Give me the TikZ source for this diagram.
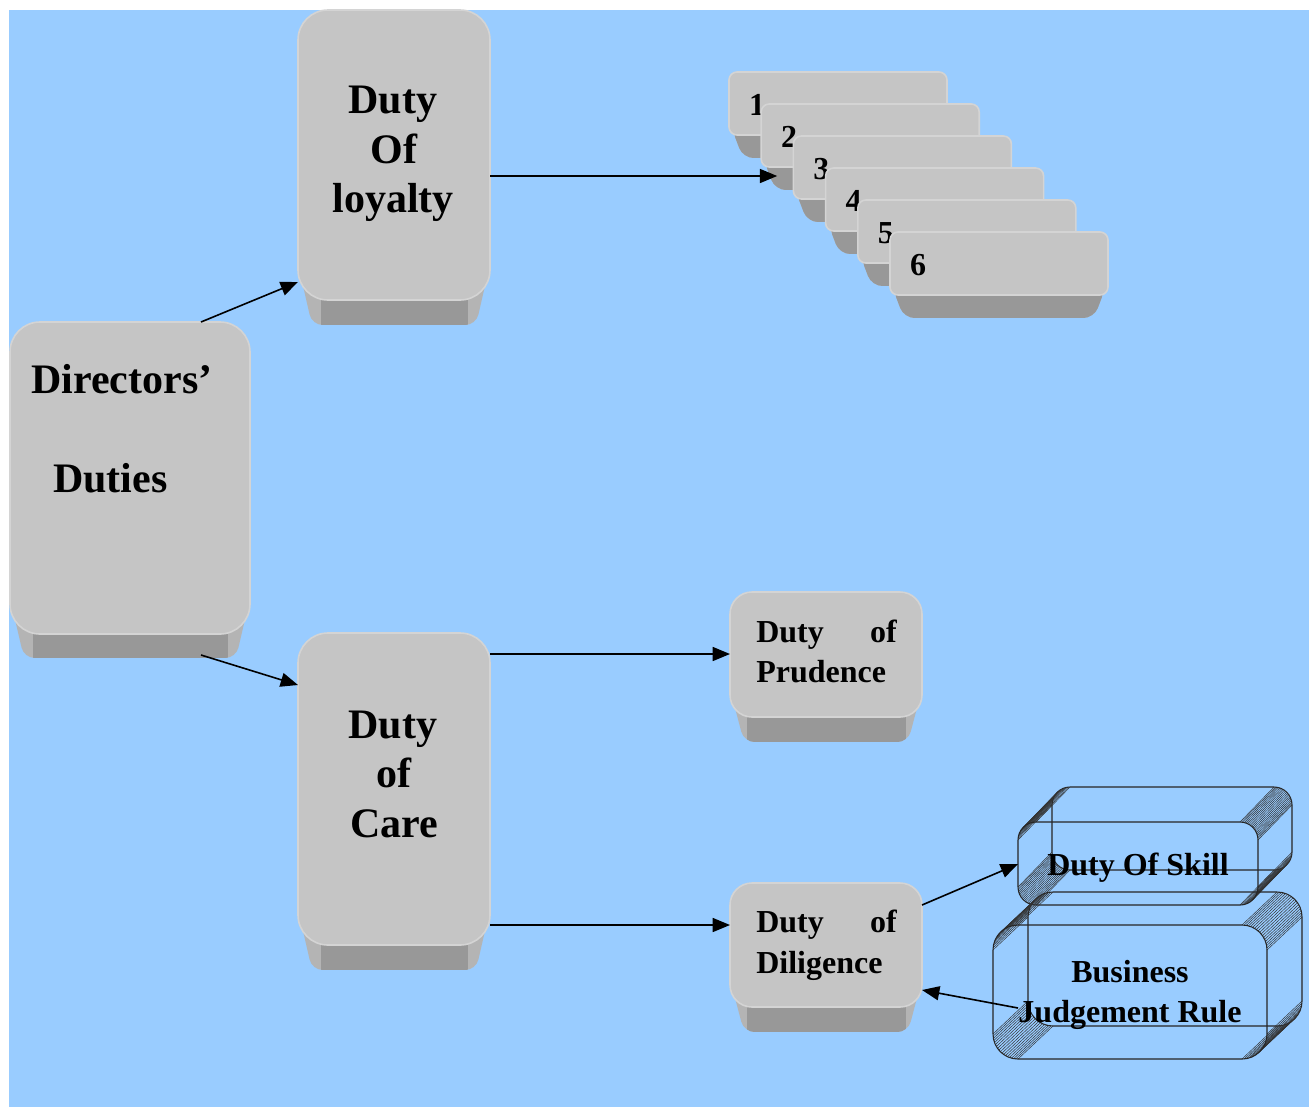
\documentclass[tikz,border=0pt]{standalone}
\usepackage{fontspec}
\setmainfont{Liberation Serif}
\usetikzlibrary{arrows.meta,calc,fit}
\definecolor{bgblue}{HTML}{99CCFF}
\definecolor{facecol}{HTML}{C5C5C5}
\definecolor{facerim}{HTML}{D4D4D4}
\definecolor{basedark}{HTML}{989898}
\definecolor{baselite}{HTML}{B4B4B4}
\tikzset{
  face/.style={inner sep=0pt, outer sep=0pt, fill=facecol, draw=facerim, line width=1.2pt},
  bigtxt/.style={inner sep=0pt, font=\fontsize{31.5}{37}\selectfont\bfseries},
  midtxt/.style={inner sep=0pt, font=\fontsize{24}{29}\selectfont\bfseries},
  conn/.style={draw=black, line width=1.2pt, -{Triangle[length=13pt,width=10.5pt]}},
  slabline/.style={draw=black!85, line width=0.8pt},
  slabface/.style={inner sep=0pt, outer sep=0pt, draw=black!85, line width=0.8pt},
  hatch/.style={draw=black!80, line width=0.35pt}
}
% name, x1, y1, x2, y2, base bottom, radius
\newcommand\btn[7]{%
  \begin{scope}
    \path[clip, rounded corners=8pt] (#2,{#5-#7-6}) -- ({#2+14},#6) -- ({#4-14},#6) -- (#4,{#5-#7-6}) -- cycle;
    \fill[baselite] (#2,{#5-#7-6}) rectangle (#4,#6);
    \fill[basedark] ({#2+0.75*#7},{#5-8}) rectangle ({#4-0.75*#7},#6);
  \end{scope}
  \node[face, rounded corners={#7*0.75pt}, fit={(#2,#3) (#4,#5)}] (#1) {};
}
% name, x1, y1, x2, y2, radius, dx, dy
\newcommand\slab[8]{%
  \draw[slabline, rounded corners={#6*0.75pt}] ({#2+#7},{#3+#8}) rectangle ({#4+#7},{#5+#8});
  \foreach \a in {90,95,...,180} \draw[hatch] ({#2+#6+#6*cos(\a)},{#3+#6-#6*sin(\a)}) -- ++(#7,#8);
  \foreach \a in {0,5,...,90} \draw[hatch] ({#4-#6+#6*cos(\a)},{#3+#6-#6*sin(\a)}) -- ++(#7,#8);
  \foreach \a in {270,275,...,360} \draw[hatch] ({#4-#6+#6*cos(\a)},{#5-#6-#6*sin(\a)}) -- ++(#7,#8);
  \foreach \a in {180,185,...,270} \draw[hatch] ({#2+#6+#6*cos(\a)},{#5-#6-#6*sin(\a)}) -- ++(#7,#8);
  \node[slabface, rounded corners={#6*0.75pt}, fit={(#2,#3) (#4,#5)}] (#1) {};
}
\begin{document}
\begin{tikzpicture}[x=0.75pt,y=-0.75pt]
\useasboundingbox (0,0) rectangle (1309,1107);
\fill[bgblue] (9,10) rectangle (1309,1107);

% main buttons
\btn{dd}{10}{322}{250}{634}{658}{30}
\node[bigtxt, anchor=base west] (tdd1) at (31,393) {Directors’};
\node[bigtxt, anchor=base west] (tdd2) at (53,492) {Duties};

\btn{loy}{298}{10}{490}{300}{325}{30}
\node[bigtxt, anchor=base] (tl1) at (393,113) {Duty};
\node[bigtxt, anchor=base] (tl2) at (394,163) {Of};
\node[bigtxt, anchor=base] (tl3) at (393,212) {loyalty};

\btn{care}{298}{633}{490}{945}{970}{30}
\node[bigtxt, anchor=base] (tc1) at (393,738) {Duty};
\node[bigtxt, anchor=base] (tc2) at (394,787) {of};
\node[bigtxt, anchor=base] (tc3) at (394,837) {Care};

\btn{pru}{730}{592}{922}{717}{742}{22}
\node[midtxt, anchor=base west] (tp1) at (756,642) {Duty};
\node[midtxt, anchor=base east] (tp2) at (897,642) {of};
\node[midtxt, anchor=base west] (tp3) at (756,682) {Prudence};

\btn{dil}{730}{883}{922}{1007}{1032}{22}
\node[midtxt, anchor=base west] (tg1) at (756,932) {Duty};
\node[midtxt, anchor=base east] (tg2) at (897,932) {of};
\node[midtxt, anchor=base west] (tg3) at (756,973) {Diligence};

% stacked numbered boxes
\foreach \i in {1,...,6} {
  \pgfmathsetmacro\xa{729+32.2*(\i-1)}
  \pgfmathsetmacro\ya{72+32*(\i-1)}
  \pgfmathsetmacro\xb{\xa+218}
  \pgfmathsetmacro\yb{\ya+63}
  \pgfmathsetmacro\bb{\yb+23}
  \btn{s\i}{\xa}{\ya}{\xb}{\yb}{\bb}{8}
  \node[midtxt, anchor=base] (n\i) at ({\xa+28},{\ya+43}) {\i};
}

% 3D outlined boxes
\slab{skill}{1018}{822}{1258}{905}{18}{34}{-35}
\node[midtxt, anchor=base] (tsk) at (1138,875) {Duty Of Skill};
\slab{bjr}{993}{925}{1267}{1059}{25}{35}{-33}
\node[midtxt, anchor=base] (tb1) at (1130,982) {Business};
\node[midtxt, anchor=base] (tb2) at (1130,1022) {Judgement Rule};

% connectors
\draw[conn] ($(dd.north east)+(-49,0)$) -- ($(loy.south west)+(0,-18)$);
\draw[conn] ($(dd.south east)+(-49,21)$) -- ($(care.north west)+(0,52)$);
\draw[conn] ($(loy.north east)+(0,166)$) -- ($(s2.south west)+(16,9)$);
\draw[conn] ($(care.north east)+(0,21)$) -- ($(pru.north west)+(0,62)$);
\draw[conn] ($(care.south east)+(0,-20)$) -- ($(dil.north west)+(0,42)$);
\draw[conn] ($(dil.north east)+(0,22)$) -- ($(skill.south west)+(0,-41)$);
\draw[conn] ($(bjr.south west)+(25,-51)$) -- ($(dil.south east)+(0,-17)$);
\end{tikzpicture}
\end{document}
